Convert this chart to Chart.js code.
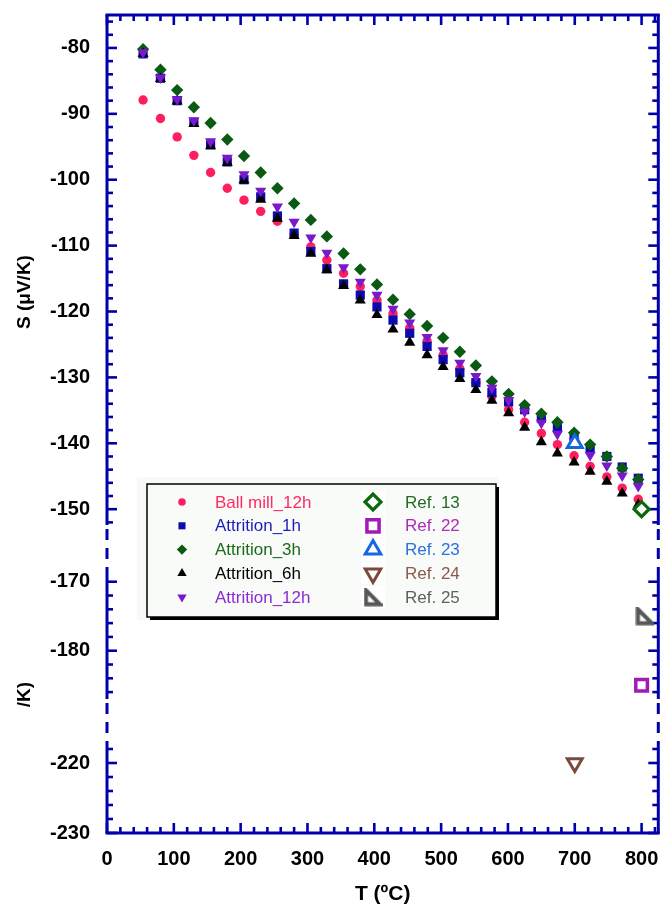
<!DOCTYPE html>
<html>
<head>
<meta charset="utf-8">
<script src="https://cdn.jsdelivr.net/npm/chart.js@4.4.1/dist/chart.umd.min.js"></script>
<style>
  html, body { margin: 0; padding: 0; background: #fff; }
  #wrap { width: 670px; height: 910px; }
</style>
</head>
<body>
<div id="wrap"><canvas id="c" width="670" height="910"></canvas></div>
<script>
// Measurement temperatures (°C)
const temps = [54, 80, 105, 130, 155, 180, 205, 230, 255, 280, 305, 329, 354, 379, 404, 428,
               453, 479, 503, 528, 552, 576, 601, 625, 650, 674, 699, 723, 748, 771, 795];

// Seebeck coefficient S (µV/K) for each milling condition
const ballMill12h = [-87.9, -90.7, -93.5, -96.3, -98.9, -101.3, -103.1, -104.8, -106.3, -108.3, -110.2,
                     -112.2, -114.2, -116.2, -118.3, -120.3, -122.5, -124.5, -126.6, -128.7, -130.8,
                     -132.9, -134.9, -136.8, -138.5, -140.2, -141.9, -143.5, -145.1, -146.8, -148.5];
const attrition1h = [-80.9, -84.6, -88.0, -91.3, -94.7, -97.3, -100.0, -102.6, -105.5, -108.1, -110.9,
                     -113.5, -115.8, -117.5, -119.3, -121.3, -123.3, -125.3, -127.3, -129.3, -130.8,
                     -132.3, -133.7, -134.9, -136.2, -137.5, -139.2, -140.7, -142.0, -143.6, -145.3];
const attrition3h = [-80.2, -83.3, -86.4, -89.0, -91.4, -93.9, -96.4, -98.9, -101.3, -103.6, -106.1,
                     -108.6, -111.2, -113.6, -115.9, -118.2, -120.4, -122.2, -124.0, -126.1, -128.2,
                     -130.6, -132.5, -134.2, -135.5, -136.8, -138.4, -140.2, -142.0, -143.8, -145.5];
const attrition6h = [-80.9, -84.7, -88.1, -91.5, -94.9, -97.4, -100.1, -103.0, -105.9, -108.5, -111.2,
                     -113.7, -116.1, -118.3, -120.5, -122.7, -124.7, -126.6, -128.4, -130.2, -131.9,
                     -133.5, -135.4, -137.6, -139.8, -141.5, -142.9, -144.3, -145.8, -147.6, -149.3];
const attrition12h = [-80.7, -84.5, -87.8, -91.0, -94.2, -96.7, -99.2, -101.7, -104.1, -106.4, -108.8,
                      -111.1, -113.3, -115.5, -117.5, -119.6, -121.7, -123.9, -125.9, -127.8, -129.8,
                      -131.6, -133.5, -135.2, -136.9, -138.6, -139.7, -141.8, -143.4, -144.9, -146.5];

// Literature values
const ref13 = [{ x: 800, y: -150 }];
const ref22 = [{ x: 800, y: -185 }];
const ref23 = [{ x: 700, y: -140 }];
const ref24 = [{ x: 700, y: -220 }];
const ref25 = [{ x: 805, y: -175 }];

// Tick labels
const xTickValues = [0, 100, 200, 300, 400, 500, 600, 700, 800];
const yTicksUpper = [-80, -90, -100, -110, -120, -130, -140, -150];
const yTicksMiddle = [-170, -180];
const yTicksLower = [-220, -230];

const FONT = "'Liberation Sans', Arial, Helvetica, sans-serif";
const AXIS_BLUE = '#0000aa';
Chart.defaults.font.family = FONT;

// hollow right-angle triangle marker
function rightTriangleMarker(size, color, lw) {
  const c = document.createElement('canvas');
  c.width = size; c.height = size;
  const g = c.getContext('2d');
  const p = lw / 2 + 0.5;
  g.beginPath();
  g.moveTo(p, p);
  g.lineTo(p, size - p);
  g.lineTo(size - p, size - p);
  g.closePath();
  g.fillStyle = '#fff';
  g.fill();
  g.lineWidth = lw;
  g.lineJoin = 'miter';
  g.strokeStyle = color;
  g.stroke();
  return c;
}
const ref25Marker = rightTriangleMarker(19, '#575757', 4);

function series(label, ys, style, color, radius, rotation, order) {
  return {
    label, order,
    data: temps.map((t, i) => ({ x: t, y: ys[i] })),
    yAxisID: 'yTop',
    pointStyle: style,
    pointRadius: radius, pointHoverRadius: radius,
    pointRotation: rotation,
    backgroundColor: color, borderColor: color,
    pointBorderWidth: 0, pointHoverBorderWidth: 0,
    clip: false
  };
}
function reference(label, data, axis, style, color, radius, rotation, bw) {
  return {
    label, data, order: 0,
    yAxisID: axis,
    pointStyle: style,
    pointRadius: radius, pointHoverRadius: radius,
    pointRotation: rotation,
    backgroundColor: '#fff', borderColor: color,
    pointBorderWidth: bw, pointHoverBorderWidth: bw,
    clip: false
  };
}

const datasets = [
  series('Ball mill_12h', ballMill12h, 'circle', '#ff1f5f', 4.7, 0, 10),
  series('Attrition_1h', attrition1h, 'rect', '#0b0bb0', 6.5, 0, 9),
  series('Attrition_3h', attrition3h, 'rectRot', '#0a5a14', 6.2, 0, 8),
  series('Attrition_6h', attrition6h, 'triangle', '#000000', 6.4, 0, 7),
  series('Attrition_12h', attrition12h, 'triangle', '#7a18cc', 6.4, 180, 6),
  reference('Ref. 13', ref13, 'yTop', 'rectRot', '#0a6a0a', 7.5, 0, 3.2),
  reference('Ref. 22', ref22, 'yMid', 'rect', '#a21ab8', 8.2, 0, 3.5),
  reference('Ref. 23', ref23, 'yTop', 'triangle', '#1566e0', 8.6, 0, 3),
  reference('Ref. 24', ref24, 'yLow', 'triangle', '#7a4b3c', 8.6, 180, 3),
  reference('Ref. 25', ref25, 'yMid', ref25Marker, '#575757', 9, 0, 0)
];

// legend text colours, same order as the datasets
const legendTextColors = ['#ff2a62', '#1d1db8', '#1a6a1a', '#000000', '#8a2ad4',
                          '#236b23', '#b02ab8', '#2a70e0', '#8b5a4a', '#606060'];

const tickFont = { family: FONT, size: 20, weight: 'bold' };

function yAxis(min, max, weight, stackWeight, tickValues) {
  return {
    type: 'linear', position: 'left', stack: 'S', stackWeight, weight,
    min, max,
    afterFit: s => { s.width = 107; s.paddingTop = 0; s.paddingBottom = 0; },
    afterBuildTicks: s => { s.ticks = tickValues.map(v => ({ value: v })); },
    grid: { display: false, drawTicks: false },
    border: { display: false },
    ticks: { display: tickValues.length > 0, font: tickFont, color: '#000', padding: 17 }
  };
}

// frame with inward ticks on all four sides, dashed where the value axis is broken
const framePlugin = {
  id: 'frame',
  beforeDatasetsDraw(chart) {
    const { ctx, chartArea: { left, right, top, bottom } } = chart;
    const segs = ['yTop', 'yMid', 'yLow'].map(id => chart.scales[id]);
    const gaps = ['yGap1', 'yGap2'].map(id => chart.scales[id]);
    const xs = chart.scales.x;
    ctx.save();
    ctx.strokeStyle = AXIS_BLUE;
    ctx.lineCap = 'butt';
    ctx.lineWidth = 3;
    const line = (x1, y1, x2, y2) => { ctx.beginPath(); ctx.moveTo(x1, y1); ctx.lineTo(x2, y2); ctx.stroke(); };
    segs.forEach(s => { line(left, s.top, left, s.bottom); line(right, s.top, right, s.bottom); });
    line(left - 1.5, bottom, right + 1.5, bottom);
    line(left - 1.5, top, right + 1.5, top);
    ctx.setLineDash([11, 8]);
    gaps.forEach(g => { line(left, g.top + 4, left, g.bottom); line(right, g.top + 4, right, g.bottom); });
    ctx.setLineDash([]);
    ctx.lineWidth = 2.6;
    segs.forEach(s => {
      for (let v = Math.ceil(s.min / 2) * 2; v <= s.max; v += 2) {
        const p = s.getPixelForValue(v);
        const len = v % 10 === 0 ? 10 : 6;
        line(left, p, left + len, p);
        line(right, p, right - len, p);
      }
    });
    for (let v = 0; v <= xs.max; v += 20) {
      const p = xs.getPixelForValue(v);
      const len = v % 100 === 0 ? 10 : 6;
      line(p, bottom, p, bottom - len);
      line(p, top, p, top + len);
    }
    ctx.restore();
  },
  afterDraw(chart) {
    const { ctx } = chart;
    const yTop = chart.scales.yTop;
    ctx.save();
    ctx.fillStyle = '#000';
    ctx.font = `bold 19px ${FONT}`;
    ctx.textBaseline = 'middle';
    // value-axis title
    ctx.save();
    ctx.translate(25, (yTop.top + yTop.bottom) / 2 + 22);
    ctx.rotate(-Math.PI / 2);
    ctx.textAlign = 'center';
    ctx.fillText('S (\u03bcV/K)', 0, 0);
    ctx.restore();
    // tail of the title repeated beside the lower part of the axis
    const yMid = chart.scales.yMid;
    ctx.save();
    ctx.beginPath();
    ctx.rect(0, yMid.bottom - 20, 60, 28);
    ctx.clip();
    ctx.translate(25, yMid.bottom - 17);
    ctx.rotate(-Math.PI / 2);
    ctx.textAlign = 'right';
    ctx.fillText('S (\u03bcV/K)', 0, 0);
    ctx.restore();
    ctx.restore();

    drawLegend(chart);
  }
};

function drawLegend(chart) {
  const { ctx, chartArea } = chart;
  const bx = chartArea.left + 40, by = chartArea.top + 469, bw = 349, bh = 133;
  ctx.save();
  ctx.fillStyle = '#f8faf8';
  ctx.fillRect(bx - 10, by - 7, bw + 12, bh + 10);
  ctx.fillStyle = '#000';
  ctx.fillRect(bx + 3, by + 3, bw, bh);
  ctx.fillStyle = '#f9fbf9';
  ctx.fillRect(bx, by, bw, bh);
  ctx.strokeStyle = '#000';
  ctx.lineWidth = 1.5;
  ctx.strokeRect(bx, by, bw, bh);

  const rowY = i => by + 18 + i * 23.8;
  const legendSizes = [3.8, 5, 5.2, 5.4, 5.4, 8, 8.6, 9, 9, 0];
  ctx.font = `17px ${FONT}`;
  ctx.textBaseline = 'middle';
  ctx.textAlign = 'left';
  chart.data.datasets.forEach((ds, i) => {
    const col = i < 5 ? 0 : 1;
    const row = i % 5;
    const mx = bx + (col === 0 ? 35 : 226);
    const tx = bx + (col === 0 ? 68 : 258);
    const y = rowY(row);
    if (col === 1) {
      ctx.fillStyle = '#fff';
      ctx.fillRect(mx - 12, y - 11, 24, 22);
    }
    ctx.fillStyle = ds.backgroundColor;
    ctx.strokeStyle = ds.borderColor;
    ctx.lineWidth = ds.pointBorderWidth;
    Chart.helpers.drawPoint(ctx, {
      pointStyle: ds.pointStyle, rotation: ds.pointRotation,
      radius: legendSizes[i], borderWidth: ds.pointBorderWidth
    }, mx, y);
    ctx.fillStyle = legendTextColors[i];
    ctx.fillText(ds.label, tx, y + 1);
  });
  ctx.restore();
}

new Chart(document.getElementById('c'), {
  type: 'scatter',
  data: { datasets },
  options: {
    responsive: false,
    animation: false,
    events: [],
    layout: { padding: { top: 15, right: 3, left: 0, bottom: 0 } },
    plugins: { legend: { display: false }, tooltip: { enabled: false } },
    scales: {
      x: {
        type: 'linear', position: 'bottom', min: 0, max: 825,
        afterFit: s => { s.height = 77; s.paddingLeft = 0; s.paddingRight = 0; },
        afterBuildTicks: s => { s.ticks = xTickValues.map(v => ({ value: v })); },
        grid: { display: false, drawTicks: false },
        border: { display: false },
        ticks: { font: tickFont, color: '#000', padding: 14, maxRotation: 0, autoSkip: false },
        title: { display: true, text: 'T (\u00baC)', color: '#000',
                 font: { family: FONT, size: 21, weight: 'bold' }, padding: { top: 0, bottom: 3 } }
      },
      yTop: yAxis(-152.4, -75, 5, 510, yTicksUpper),
      yGap1: yAxis(0, 1, 4, 45, []),
      yMid: yAxis(-187, -168.3, 3, 129, yTicksMiddle),
      yGap2: yAxis(0, 1, 2, 43, []),
      yLow: yAxis(-230, -217, 1, 91, yTicksLower)
    }
  },
  plugins: [framePlugin]
});
</script>
</body>
</html>
